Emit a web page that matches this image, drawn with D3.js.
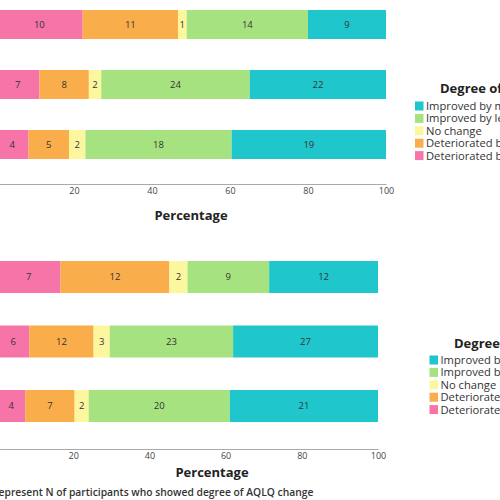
<!DOCTYPE html>
<html>
<head>
<meta charset="utf-8">
<script src="https://cdn.jsdelivr.net/npm/d3@7"></script>
<style>
html,body{margin:0;padding:0;background:#fff;overflow:hidden;}
svg{display:block;font-family:"Open Sans",sans-serif;}
</style>
</head>
<body>
<svg id="chart" width="500" height="500"></svg>
<script>
// Categories (stack order, left to right)
const categories = ["Deteriorated by more than MCID","Deteriorated by less than MCID","No change","Improved by less than MCID","Improved by more than MCID"];
const legendOrder = ["Improved by more than MCID","Improved by less than MCID","No change","Deteriorated by less than MCID","Deteriorated by more than MCID"];
const colors = ["#f774a8","#f9ae4b","#fcf79e","#a6e380","#1fc6cb"];
const groups = ["A","B","C"];
// Counts (N of participants) per group, in category order
const topCounts = [[10,11,1,14,9],[7,8,2,24,22],[4,5,2,18,19]];
const bottomCounts = [[7,12,2,9,12],[6,12,3,23,27],[4,7,2,20,21]];
const xTicks = [0,20,40,60,80,100];
const legendTitle = "Degree of AQLQ change";
const footnotePrefix = "Numbers r";
const footnoteRest = "epresent N of participants who showed degree of AQLQ change";

const svg = d3.select("#chart");
const color = d3.scaleOrdinal().domain(categories).range(colors);

function panel(counts, cfg){
  const g = svg.append("g");
  const x = d3.scaleLinear().domain([0,100]).range([cfg.x0, cfg.x1]);
  const y = d3.scaleBand().domain(groups).range([cfg.y0, cfg.y1]).padding(cfg.pad);
  const rows = counts.map((c,i)=>{
    const total = d3.sum(c);
    const o = {group: groups[i]};
    categories.forEach((k,j)=>{ o[k] = c[j]/total*100; o[k+"_n"] = c[j]; });
    return o;
  });
  const series = d3.stack().keys(categories)(rows);
  const sg = g.selectAll("g.s").data(series).join("g").attr("fill", d=>color(d.key));
  sg.selectAll("rect").data(d=>d.map(v=>({v, key:d.key}))).join("rect")
    .attr("x", d=>x(d.v[0])).attr("width", d=>x(d.v[1])-x(d.v[0]))
    .attr("y", d=>y(d.v.data.group)).attr("height", y.bandwidth());
  sg.selectAll("text").data(d=>d.map(v=>({v, key:d.key}))).join("text")
    .attr("x", d=>(x(d.v[0])+x(d.v[1]))/2)
    .attr("y", d=>y(d.v.data.group)+y.bandwidth()/2)
    .attr("dy","0.35em").attr("text-anchor","middle")
    .attr("fill","#333").attr("font-size", 9.5)
    .text(d=>d.v.data[d.key+"_n"]);
  const ax = g.append("g").attr("transform",`translate(0,${cfg.axisY})`)
    .call(d3.axisBottom(x).tickValues(xTicks).tickSize(0).tickPadding(4));
  ax.select(".domain").attr("stroke","#aaa").attr("stroke-width",1.2);
  ax.selectAll("text").attr("font-size",9).attr("fill","#444").attr("font-family","Open Sans, sans-serif");
  g.append("text").attr("x", cfg.labelX).attr("y", cfg.labelY).attr("text-anchor","middle")
    .attr("font-size",13).attr("font-weight","bold").attr("fill","#222").text("Percentage");
  // legend
  const lg = g.append("g");
  lg.append("text").attr("x", cfg.legTitleX).attr("y", cfg.legTitleY)
    .attr("font-size",13).attr("font-weight","bold").attr("fill","#222").text(legendTitle);
  legendOrder.forEach((k,i)=>{
    const yy = cfg.legY + i*12.4;
    lg.append("rect").attr("x", cfg.legX).attr("y", yy-4.5).attr("width",8.5).attr("height",9).attr("fill", color(k));
    lg.append("text").attr("x", cfg.legX+11).attr("y", yy).attr("dy","0.35em")
      .attr("font-size",11.2).attr("fill","#333").text(k);
  });
}

panel(topCounts, {x0:-4, x1:386, y0:-21, y1:190, pad:31/60, axisY:184,
  labelX:191, labelY:220, legTitleX:440, legTitleY:93, legX:415, legY:106});
panel(bottomCounts, {x0:-3, x1:378, y0:228.5, y1:454.5, pad:0.504, axisY:449,
  labelX:212, labelY:477, legTitleX:454, legTitleY:348, legX:429.5, legY:360});

// footnote: size so that the visible part spans like the reference, left part cut by the edge
const fn = svg.append("text").attr("y", 496).attr("font-weight","600").attr("fill","#333")
  .attr("font-size",10.5);
fn.append("tspan").attr("class","pre").text(footnotePrefix);
fn.append("tspan").attr("class","rest").text(footnoteRest);
(function(){
  const rest = fn.select(".rest").node();
  const w = rest.getComputedTextLength();
  const fs = 10.5*315/w;
  fn.attr("font-size", fs);
  const preW = fn.select(".pre").node().getComputedTextLength();
  fn.attr("x", -3 - preW + fs*0.15);
})();
</script>
</body>
</html>
